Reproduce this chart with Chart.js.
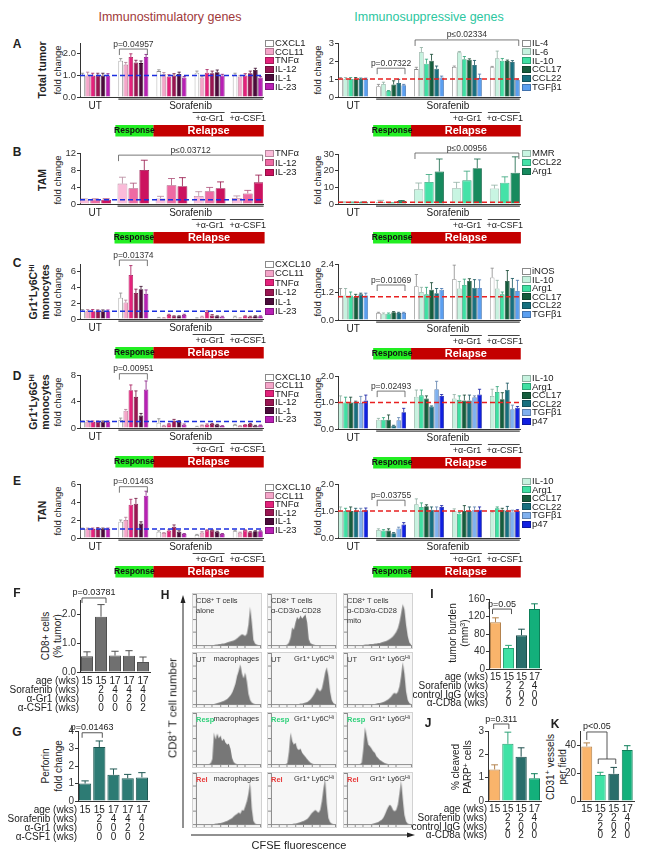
<!DOCTYPE html>
<html>
<head>
<meta charset="utf-8">
<script src="https://cdn.jsdelivr.net/npm/chart.js@4.4.1/dist/chart.umd.min.js"></script>
<style>
  html, body { margin: 0; padding: 0; background: #fff; }
  #page { position: relative; width: 648px; height: 861px; overflow: hidden;
          font-family: "Liberation Sans", Arial, sans-serif; color: #222; }
  #page canvas { position: absolute; }
  .t { position: absolute; white-space: nowrap; line-height: 1.15; text-align: center; }
  .sw { position: absolute; width: 9px; height: 7px; border: 1px solid #555; box-sizing: border-box; }
  .hp { background: #f6f6f6; border: 1px solid #d2d2d2; box-sizing: border-box; }
  sup { font-size: 70%; vertical-align: 0.45em; line-height: 0; }
</style>
</head>
<body>
<div id="page"></div>
<script>
// groups on the x axis of panels A-E
const groupNames = ['UT', 'Response', 'Sorafenib', 'Sorafenib + α-Gr1', 'Sorafenib + α-CSF1'];

// ---- A: total tumor
const aStimGenes = ['CXCL1', 'CCL11', 'TNFα', 'IL-12', 'IL-1', 'IL-23'];
const aStimMean = [
  [1.0, 1.68, 1.2, 1.12, 1.0],
  [1.0, 1.5, 1.05, 0.9, 0.95],
  [1.0, 1.85, 0.95, 1.12, 1.0],
  [1.0, 1.6, 1.0, 1.1, 1.1],
  [1.0, 1.57, 1.07, 1.15, 1.25],
  [1.0, 1.85, 0.9, 1.0, 0.9]
];
const aStimErr = [
  [0.1, 0.1, 0.06, 0.08, 0.1],
  [0.15, 0.1, 0.08, 0.05, 0.05],
  [0.1, 0.15, 0.08, 0.15, 0.08],
  [0.1, 0.1, 0.08, 0.1, 0.1],
  [0.1, 0.1, 0.08, 0.1, 0.08],
  [0.08, 0.12, 0.05, 0.05, 0.05]
];
const aSuppGenes = ['IL-4', 'IL-6', 'IL-10', 'CCL17', 'CCL22', 'TGFβ1'];
const aSuppMean = [
  [1.0, 0.6, 1.55, 1.67, 1.65],
  [1.0, 0.72, 2.5, 2.48, 2.15],
  [1.0, 0.33, 1.85, 2.1, 2.02],
  [1.0, 0.7, 2.02, 2.07, 2.0],
  [1.0, 0.78, 1.57, 1.78, 1.95],
  [1.0, 0.65, 1.08, 1.05, 0.95]
];
const aSuppErr = [
  [0.08, 0.1, 0.1, 0.05, 0.05],
  [0.08, 0.1, 0.25, 0.05, 0.4],
  [0.08, 0.03, 0.25, 0.15, 0.12],
  [0.08, 0.2, 0.35, 0.05, 0.05],
  [0.05, 0.2, 0.15, 0.25, 0.07],
  [0.05, 0.05, 0.08, 0.22, 0.05]
];

// ---- B: TAM
const bStimGenes = ['TNFα', 'IL-12', 'IL-23'];
const bStimMean = [
  [1.0, 4.8, 1.3, 1.9, 1.4],
  [1.0, 3.7, 4.4, 3.0, 2.5],
  [1.0, 8.0, 4.2, 3.7, 5.1]
];
const bStimErr = [
  [0.2, 1.5, 0.5, 1.0, 0.5],
  [0.2, 1.2, 1.6, 0.9, 0.7],
  [0.2, 2.3, 2.0, 1.5, 1.7]
];
const bSuppGenes = ['MMR', 'CCL22', 'Arg1'];
const bSuppMean = [
  [1.0, 1.2, 8.8, 9.5, 9.3],
  [1.0, 0.6, 13.2, 14.2, 12.8],
  [1.0, 1.8, 19.5, 21.5, 18.8]
];
const bSuppErr = [
  [0.3, 1.0, 3.8, 3.5, 2.0],
  [0.2, 0.2, 4.5, 5.5, 3.5],
  [0.2, 0.3, 7.5, 5.5, 9.5]
];

// ---- C: Gr1+Ly6C hi monocytes
const cStimGenes = ['CXCL10', 'CCL11', 'TNFα', 'IL-12', 'IL-1', 'IL-23'];
const cStimMean = [
  [1.0, 2.7, 0.15, 0.1, 0.3],
  [1.0, 2.1, 0.12, 0.3, 0.1],
  [1.0, 5.6, 0.5, 0.9, 0.35],
  [1.0, 3.3, 0.35, 0.45, 0.3],
  [1.0, 3.8, 0.35, 0.35, 0.35],
  [1.0, 3.2, 0.5, 0.3, 0.35]
];
const cStimErr = [
  [0.2, 0.6, 0.05, 0.05, 0.05],
  [0.2, 0.3, 0.05, 0.05, 0.05],
  [0.2, 1.2, 0.1, 0.15, 0.05],
  [0.15, 0.5, 0.05, 0.1, 0.05],
  [0.15, 0.35, 0.05, 0.05, 0.05],
  [0.15, 0.5, 0.1, 0.05, 0.05]
];
const cSuppGenes = ['iNOS', 'IL-10', 'Arg1', 'CCL17', 'CCL22', 'TGFβ1'];
const cSuppMean = [
  [1.05, 0.3, 1.45, 1.75, 1.82],
  [1.05, 0.27, 1.2, 1.35, 1.35],
  [1.05, 0.27, 1.1, 1.5, 1.1],
  [1.0, 0.33, 1.3, 1.67, 1.67],
  [1.1, 0.3, 1.15, 1.38, 1.38],
  [1.05, 0.3, 1.3, 1.37, 1.25]
];
const cSuppErr = [
  [0.3, 0.03, 0.5, 0.6, 0.4],
  [0.3, 0.03, 0.2, 0.3, 0.35],
  [0.15, 0.03, 0.3, 0.25, 0.1],
  [0.1, 0.03, 0.3, 0.1, 0.45],
  [0.05, 0.03, 0.2, 0.35, 0.4],
  [0.1, 0.03, 0.05, 0.35, 0.45]
];

// ---- D: Gr1+Ly6G hi monocytes
const dStimGenes = ['CXCL10', 'CCL11', 'TNFα', 'IL-12', 'IL-1', 'IL-23'];
const dStimMean = [
  [0.95, 1.2, 0.8, 0.2, 0.45],
  [0.95, 2.6, 0.3, 0.4, 0.3],
  [0.95, 5.7, 0.55, 0.5, 0.45],
  [0.95, 4.7, 1.1, 0.6, 0.6],
  [0.95, 1.9, 0.9, 0.5, 0.35],
  [0.95, 5.8, 0.5, 0.3, 0.4]
];
const dStimErr = [
  [0.1, 0.3, 0.6, 0.05, 0.1],
  [0.15, 0.2, 0.1, 0.05, 0.05],
  [0.1, 0.8, 0.1, 0.1, 0.05],
  [0.1, 0.9, 0.2, 0.1, 0.1],
  [0.1, 0.3, 0.2, 0.05, 0.05],
  [0.1, 1.3, 0.1, 0.05, 0.05]
];
const dSuppGenes = ['IL-10', 'Arg1', 'CCL17', 'CCL22', 'TGFβ1', 'p47'];
const dSuppMean = [
  [1.0, 0.35, 1.22, 1.15, 1.25],
  [1.0, 0.35, 1.27, 1.1, 1.4],
  [1.0, 0.35, 1.15, 1.08, 1.12],
  [1.02, 0.12, 0.85, 1.08, 1.48],
  [0.98, 0.33, 1.5, 1.2, 0.75],
  [1.08, 0.63, 1.25, 1.3, 0.8]
];
const dSuppErr = [
  [0.25, 0.05, 0.25, 0.15, 0.25],
  [0.2, 0.08, 0.2, 0.15, 0.2],
  [0.2, 0.18, 0.1, 0.2, 0.25],
  [0.03, 0.02, 0.02, 0.2, 0.25],
  [0.25, 0.1, 0.3, 0.05, 0.15],
  [0.2, 0.15, 0.05, 0.2, 0.05]
];

// ---- E: TAN
const eStimGenes = ['CXCL10', 'CCL11', 'TNFα', 'IL-12', 'IL-1', 'IL-23'];
const eStimMean = [
  [1.0, 1.8, 0.7, 0.35, 0.75],
  [1.0, 2.0, 0.55, 0.6, 0.6],
  [1.0, 3.7, 0.8, 0.85, 0.85],
  [1.0, 3.8, 1.25, 0.85, 0.65],
  [1.0, 1.6, 0.7, 0.7, 0.75],
  [1.0, 4.7, 0.45, 0.45, 0.75]
];
const eStimErr = [
  [0.1, 0.2, 0.1, 0.05, 0.1],
  [0.1, 0.3, 0.05, 0.1, 0.05],
  [0.1, 0.6, 0.1, 0.05, 0.05],
  [0.15, 0.6, 0.2, 0.05, 0.05],
  [0.1, 0.2, 0.1, 0.05, 0.05],
  [0.1, 0.5, 0.05, 0.05, 0.05]
];
const eSuppGenes = ['IL-10', 'Arg1', 'CCL17', 'CCL22', 'TGFβ1', 'p47'];
const eSuppMean = [
  [1.0, 0.3, 1.25, 1.0, 0.95],
  [1.0, 0.28, 1.15, 0.9, 1.1],
  [1.0, 0.28, 1.18, 1.0, 1.05],
  [1.0, 0.18, 1.05, 1.0, 1.02],
  [1.0, 0.35, 1.0, 1.05, 0.98],
  [1.03, 0.5, 1.15, 1.05, 1.0]
];
const eSuppErr = [
  [0.15, 0.04, 0.2, 0.08, 0.05],
  [0.1, 0.03, 0.15, 0.05, 0.05],
  [0.15, 0.06, 0.05, 0.2, 0.05],
  [0.1, 0.02, 0.1, 0.15, 0.15],
  [0.1, 0.05, 0.15, 0.1, 0.05],
  [0.08, 0.07, 0.05, 0.1, 0.05]
];

// ---- F, G
const treatGroups = ['15 wk', '15 wk Sor', '17 wk Sor', '17 wk Sor+Gr1', '17 wk Sor+CSF1'];
const cd8Mean = [0.55, 1.92, 0.57, 0.56, 0.35];
const cd8Err = [0.15, 0.42, 0.15, 0.18, 0.17];
const perforinMean = [1.0, 3.08, 1.5, 1.3, 1.35];
const perforinErr = [0.15, 0.35, 0.33, 0.22, 0.27];
const treatRowLabels = ['age (wks)', 'Sorafenib (wks)', 'α-Gr1 (wks)', 'α-CSF1 (wks)'];
const treatRows = [
  [15, 15, 17, 17, 17],
  ['', 2, 4, 4, 4],
  ['', 0, 0, 2, 0],
  ['', 0, 0, 0, 2]
];

// ---- I, J, K
const cd8aGroups = ['15 wk', '15 wk Sor+IgG', '15 wk Sor+CD8a', '17 wk Sor'];
const burdenMean = [107, 48, 77, 137];
const burdenErr = [10, 6, 14, 12];
const parpMean = [1.35, 2.45, 1.9, 0.97];
const parpErr = [0.2, 0.5, 0.38, 0.2];
const cd31Mean = [39, 18.5, 19.5, 36.5];
const cd31Err = [2.5, 2, 4.5, 3];
const cd8aRowLabels = ['age (wks)', 'Sorafenib (wks)', 'control IgG (wks)', 'α-CD8a (wks)'];
const cd8aRows = [
  [15, 15, 15, 17],
  ['', 2, 2, 4],
  ['', 2, 0, 0],
  ['', 0, 2, 0]
];

// ---- H: CFSE histograms (40 bins, % of panel height)
const hAlone   = [0,0,0,0,0,0,0,0,0,0,0,0,1,1,2,2,3,3,4,5,6,7,8,9,11,13,16,19,21,20,18,22,40,75,45,10,3,1,0,0];
const hCD3     = [0,0,0,0,0,0,0,0,0,0,1,5,15,35,30,45,55,50,58,52,56,60,45,12,4,2,1,0,0,0,0,0,0,0,0,0,0,0,0,0];
const hMito    = [0,0,0,0,0,0,0,0,0,0,0,1,1,1,2,2,2,3,3,4,4,5,6,7,8,10,12,14,17,21,26,33,45,62,80,70,40,18,5,1];
const hUtMac   = [0,0,0,0,0,0,0,0,0,0,0,0,1,2,3,4,5,6,8,10,13,17,22,30,40,55,65,78,60,50,62,45,20,8,3,1,0,0,0,0];
const hUtLy6C  = [0,0,0,0,0,0,0,0,0,0,0,0,0,0,0,0,0,0,1,1,2,3,4,6,9,13,18,24,32,28,25,30,45,62,72,55,25,8,2,0];
const hUtLy6G  = [0,0,0,0,0,0,0,0,0,0,0,0,0,0,0,0,0,0,1,2,2,3,4,5,7,9,12,15,20,22,20,24,35,55,82,60,25,8,2,0];
const hRespMac = [0,0,0,0,0,0,0,0,0,2,10,62,48,60,50,56,45,50,42,38,40,30,12,4,1,0,0,0,0,0,0,0,0,0,0,0,0,0,0,0];
const hRespLy6C= [0,0,0,0,0,0,0,0,0,0,2,25,62,45,38,42,30,28,30,22,18,14,10,6,3,1,0,0,0,0,0,0,0,0,0,0,0,0,0,0];
const hRespLy6G= [0,0,0,0,0,0,0,0,0,3,30,72,55,38,35,30,25,22,15,12,8,6,4,2,1,0,0,0,0,0,0,0,0,0,0,0,0,0,0,0];
const hRelMac  = [0,0,0,0,0,0,0,0,0,0,0,0,1,1,2,2,3,4,5,6,8,10,12,15,18,20,23,20,28,26,35,45,60,82,30,6,1,0,0,0];
const hRelLy6C = [0,0,0,0,0,0,0,0,0,0,0,0,0,0,1,1,2,3,4,5,6,8,10,13,18,22,25,28,25,22,28,45,70,88,40,12,4,1,0,0];
const hRelLy6G = [0,0,0,0,0,0,0,0,0,0,0,0,0,0,0,0,1,2,3,4,6,8,12,18,26,33,38,35,28,25,28,38,60,85,50,18,5,1,0,0];

// colours
const stimColors = ['#ffffff', '#f5a5c9', '#e4227b', '#9a1552', '#4b0b3b', '#b820b4'];
const tamStimColors = ['#fbbbd9', '#ee6aa3', '#cc125f'];
const suppColors = ['#ffffff', '#c6f2df', '#3fe0a3', '#155d3d', '#17707f', '#5b9ff0'];
const tamSuppColors = ['#c8f5e2', '#45e2a8', '#178a5e'];
const mdscSuppColors = ['#c6f2df', '#3fe0a3', '#155d3d', '#17707f', '#80b1ef', '#1020e0'];
const treatColors = ['#f9b46b', '#3fe2a5', '#2a6e6b', '#13b07b'];

const FONT = '"Liberation Sans", Arial, sans-serif';
Chart.defaults.font.family = FONT;
Chart.defaults.color = '#333';
const page = document.getElementById('page');

function edge(c) {
  if (c.toLowerCase() === '#ffffff') return '#8a8a8a';
  const n = parseInt(c.slice(1), 16);
  const f = 0.72;
  return `rgb(${Math.round((n >> 16 & 255) * f)},${Math.round((n >> 8 & 255) * f)},${Math.round((n & 255) * f)})`;
}

function put(html, x, y, style, anchor) {
  const d = document.createElement('div');
  d.className = 't';
  d.innerHTML = html;
  d.style.left = x + 'px';
  d.style.top = y + 'px';
  if (style) d.style.cssText += style;
  const a = anchor || 'c';
  let tr = 'translate(-50%,-50%)';
  if (a === 'l') tr = 'translate(0,-50%)';
  if (a === 'r') tr = 'translate(-100%,-50%)';
  if (a === 'tl') tr = 'none';
  if (a === 'tr') tr = 'translate(-100%,0)';
  if (a === 'rot') tr = 'translate(-50%,-50%) rotate(-90deg)';
  d.style.transform = tr;
  page.appendChild(d);
  return d;
}

function canvasAt(x, y, w, h, cls) {
  const c = document.createElement('canvas');
  c.width = w; c.height = h;
  c.style.left = x + 'px'; c.style.top = y + 'px';
  c.style.width = w + 'px'; c.style.height = h + 'px';
  if (cls) c.className = cls;
  page.appendChild(c);
  return c;
}

function legend(x, y0, dy, names, colors) {
  names.forEach((n, i) => {
    const y = y0 + i * dy;
    const s = document.createElement('div');
    s.className = 'sw';
    s.style.left = x + 'px';
    s.style.top = (y - 3.5) + 'px';
    s.style.background = colors[i];
    s.style.borderColor = edge(colors[i]);
    page.appendChild(s);
    put(n, x + 10, y, 'font-size:9.5px;', 'l');
  });
}

// error bars, brackets, reference line and treatment annotations of panels A-E
const geneDeco = {
  id: 'geneDeco',
  afterDatasetsDraw(chart, args, o) {
    const ctx = chart.ctx, a = chart.chartArea, ys = chart.scales.y;
    const sets = chart.data.datasets;
    ctx.save();
    sets.forEach((ds, i) => {
      chart.getDatasetMeta(i).data.forEach((b, j) => {
        const yt = ys.getPixelForValue(ds.data[j] + o.err[i][j]);
        const cw = Math.max(1.5, b.width * 0.35);
        ctx.strokeStyle = ds.borderColor;
        ctx.lineWidth = 0.8;
        ctx.beginPath();
        ctx.moveTo(b.x, b.y); ctx.lineTo(b.x, yt);
        ctx.moveTo(b.x - cw, yt); ctx.lineTo(b.x + cw, yt);
        ctx.stroke();
      });
    });
    const L = [], R = [];
    for (let j = 0; j < groupNames.length; j++) {
      const bars = sets.map((d, i) => chart.getDatasetMeta(i).data[j]);
      L[j] = Math.min(...bars.map(b => b.x - b.width / 2));
      R[j] = Math.max(...bars.map(b => b.x + b.width / 2));
    }
    // dashed line at fold change 1
    const y1 = ys.getPixelForValue(1);
    ctx.setLineDash([5, 3]);
    ctx.strokeStyle = o.ref;
    ctx.lineWidth = 1.5;
    ctx.beginPath(); ctx.moveTo(a.left, y1); ctx.lineTo(a.right, y1); ctx.stroke();
    ctx.setLineDash([]);
    // p value brackets
    ctx.textAlign = 'center';
    (o.brackets || []).forEach(br => {
      const yb = ys.getPixelForValue(br.v);
      const x0 = L[br.g0] + 1, x1 = R[br.g1] - 1;
      ctx.strokeStyle = '#555'; ctx.lineWidth = 0.8;
      ctx.beginPath();
      ctx.moveTo(x0, yb + 6); ctx.lineTo(x0, yb); ctx.lineTo(x1, yb); ctx.lineTo(x1, yb + 6);
      ctx.stroke();
      ctx.fillStyle = '#333';
      ctx.font = '8.5px ' + FONT;
      ctx.textBaseline = 'alphabetic';
      ctx.fillText(br.text, (x0 + x1) / 2, yb - 2.5);
    });
    // treatment annotations below the axis
    const yb = a.bottom;
    ctx.fillStyle = '#222';
    ctx.textBaseline = 'middle';
    ctx.font = '10px ' + FONT;
    ctx.fillText('UT', (L[0] + R[0]) / 2, yb + 9.5);
    ctx.fillText('Sorafenib', (L[1] + R[4]) / 2, yb + 9.5);
    ctx.strokeStyle = '#444'; ctx.lineWidth = 1.3;
    ctx.beginPath();
    ctx.moveTo(L[1], yb + 2.2); ctx.lineTo(R[4], yb + 2.2);
    ctx.stroke();
    ctx.lineWidth = 1;
    ctx.beginPath();
    ctx.moveTo(L[3] - 2, yb + 15.5); ctx.lineTo(R[3], yb + 15.5);
    ctx.moveTo(L[4] - 2, yb + 15.5); ctx.lineTo(R[4], yb + 15.5);
    ctx.stroke();
    ctx.font = '9px ' + FONT;
    ctx.fillText('+α-Gr1', (L[3] + R[3]) / 2, yb + 21.5);
    ctx.fillText('+α-CSF1', (L[4] + R[4]) / 2, yb + 21.5);
    const bx0 = L[1] - 3, bx1 = (R[1] + L[2]) / 2 + 1, bx2 = R[4] + 1;
    ctx.fillStyle = '#22ee22';
    ctx.fillRect(bx0, yb + 28, bx1 - bx0, 11.5);
    ctx.fillStyle = '#c40000';
    ctx.fillRect(bx1, yb + 28, bx2 - bx1, 11.5);
    ctx.fillStyle = '#111';
    ctx.font = 'bold 8.5px ' + FONT;
    ctx.fillText('Response', (bx0 + bx1) / 2, yb + 34);
    ctx.fillStyle = '#fff';
    ctx.font = 'bold 11px ' + FONT;
    ctx.fillText('Relapse', (bx1 + bx2) / 2, yb + 34);
    ctx.restore();
  }
};

function geneChart(o) {
  const padT = 24, padB = 42, lab = 32;
  const W = lab + o.w + 3, H = padT + (o.bottom - o.top) + padB;
  const c = canvasAt(o.x0 - lab, o.top - padT, W, H);
  new Chart(c, {
    type: 'bar',
    data: {
      labels: [1, 2, 3, 4, 5],
      datasets: o.genes.map((g, i) => ({
        label: g,
        data: o.mean[i],
        backgroundColor: o.colors[i],
        borderColor: edge(o.colors[i]),
        borderWidth: 0.8,
        categoryPercentage: o.cat,
        barPercentage: 0.9
      }))
    },
    options: {
      responsive: false, animation: false, devicePixelRatio: 1,
      layout: { padding: { top: padT, bottom: padB, left: 0, right: 3 } },
      plugins: {
        legend: { display: false }, tooltip: { enabled: false },
        geneDeco: { err: o.err, ref: o.ref, brackets: o.brackets }
      },
      scales: {
        x: {
          type: 'linear', min: 0.6, max: 5.4, offset: false,
          ticks: { display: false }, grid: { display: false },
          border: { color: '#333', width: 1 },
          afterFit: s => { s.height = 0; }
        },
        y: {
          min: 0, max: o.max,
          ticks: { stepSize: o.step, font: { size: 9.5 }, color: '#333', padding: 1,
                   callback: v => Number(v).toFixed(o.dec) },
          grid: { drawOnChartArea: false, tickLength: 3, color: '#333' },
          border: { color: '#333', width: 1 },
          afterFit: s => { s.width = lab; }
        }
      }
    },
    plugins: [geneDeco]
  });
  legend(o.lx, o.ly, o.ldy, o.genes, o.colors);
}

// error bars, treatment table and brackets of panels F, G, I, J, K
const simpleDeco = {
  id: 'simpleDeco',
  afterDatasetsDraw(chart, args, o) {
    const ctx = chart.ctx, a = chart.chartArea, ys = chart.scales.y;
    const ds = chart.data.datasets[0];
    const bars = chart.getDatasetMeta(0).data;
    ctx.save();
    ctx.lineWidth = 1;
    bars.forEach((b, j) => {
      const yt = ys.getPixelForValue(ds.data[j] + o.err[j]);
      ctx.strokeStyle = Array.isArray(ds.borderColor) ? ds.borderColor[j] : ds.borderColor;
      ctx.beginPath();
      ctx.moveTo(b.x, b.y); ctx.lineTo(b.x, yt);
      ctx.moveTo(b.x - b.width * 0.3, yt); ctx.lineTo(b.x + b.width * 0.3, yt);
      ctx.stroke();
    });
    ctx.fillStyle = '#222';
    ctx.textBaseline = 'middle';
    ctx.font = '10px ' + FONT;
    o.rows.forEach((row, k) => {
      const yy = a.bottom + o.row0 + k * o.rowDy;
      if (o.rowLabels) { ctx.textAlign = 'right'; ctx.fillText(o.rowLabels[k], a.left - 1, yy); }
      ctx.textAlign = 'center';
      row.forEach((v, j) => ctx.fillText(String(v), bars[j].x, yy));
    });
    const br = o.bracket;
    ctx.strokeStyle = '#444'; ctx.lineWidth = 0.9;
    ctx.font = '9px ' + FONT;
    ctx.textBaseline = 'alphabetic';
    ctx.textAlign = 'center';
    ctx.fillStyle = '#222';
    if (br.kind === 'step') {
      const y0 = ys.getPixelForValue(br.v), y2 = ys.getPixelForValue(br.v2);
      const b0 = bars[br.i0], b1 = bars[br.i1], b2 = bars[br.i2];
      const mid = (b1.x + b2.x) / 2;
      ctx.beginPath();
      ctx.moveTo(b0.x, y0 + 8); ctx.lineTo(b0.x, y0); ctx.lineTo(mid, y0); ctx.lineTo(mid, y2);
      ctx.moveTo(b1.x - 2, y2 + 5); ctx.lineTo(b1.x - 2, y2); ctx.lineTo(b2.x + 2, y2); ctx.lineTo(b2.x + 2, y2 + 5);
      ctx.stroke();
      ctx.fillText(br.text, (b0.x + mid) / 2, y0 - 3);
    } else {
      const yb = ys.getPixelForValue(br.v);
      const x0 = bars[br.i0].x - br.pad, x1 = bars[br.i1].x + br.pad;
      ctx.beginPath();
      ctx.moveTo(x0, yb + 5); ctx.lineTo(x0, yb); ctx.lineTo(x1, yb); ctx.lineTo(x1, yb + 5);
      ctx.stroke();
      ctx.textAlign = br.align || 'center';
      ctx.fillText(br.text, br.align === 'left' ? x0 - 2 : (x0 + x1) / 2, yb - 2.5);
    }
    ctx.restore();
  }
};

function simpleChart(o) {
  const padT = 22, padB = 44;
  const W = o.lab + o.w + 3, H = padT + (o.bottom - o.top) + padB;
  const c = canvasAt(o.x0 - o.lab, o.top - padT, W, H);
  new Chart(c, {
    type: 'bar',
    data: {
      labels: o.labels,
      datasets: [{
        data: o.mean,
        backgroundColor: o.colors,
        borderColor: o.colors.map(edge),
        borderWidth: 1,
        categoryPercentage: 1,
        barPercentage: o.bp
      }]
    },
    options: {
      responsive: false, animation: false, devicePixelRatio: 1,
      layout: { padding: { top: padT, bottom: padB, left: 0, right: 3 } },
      plugins: {
        legend: { display: false }, tooltip: { enabled: false },
        simpleDeco: { err: o.err, rows: o.rows, rowLabels: o.rowLabels, row0: o.row0, rowDy: o.rowDy, bracket: o.bracket }
      },
      scales: {
        x: {
          ticks: { display: false }, grid: { display: false },
          border: { color: '#333', width: 1 },
          afterFit: s => { s.height = 0; }
        },
        y: {
          min: 0, max: o.max,
          ticks: { stepSize: o.step, font: { size: 10 }, color: '#333', padding: 1,
                   callback: v => Number(v).toFixed(o.dec) },
          grid: { drawOnChartArea: false, tickLength: 3, color: '#333' },
          border: { color: '#333', width: 1 },
          afterFit: s => { s.width = o.lab; }
        }
      }
    },
    plugins: [simpleDeco]
  });
}

function histo(x, y, data, tl, tr, tlColor) {
  const w = 70, h = 56;
  const c = canvasAt(x, y, w, h, 'hp');
  new Chart(c, {
    type: 'line',
    data: { datasets: [{ data: data.map((v, i) => ({ x: i, y: v })), fill: 'origin',
            backgroundColor: '#777', borderWidth: 0, pointRadius: 0, tension: 0 }] },
    options: {
      responsive: false, animation: false, devicePixelRatio: 1,
      layout: { padding: { top: 0, right: 1, left: 0, bottom: 0 } },
      plugins: { legend: { display: false }, tooltip: { enabled: false } },
      scales: {
        x: { type: 'linear', min: 0, max: 39, ticks: { display: false, stepSize: 5 },
             grid: { drawOnChartArea: false, tickLength: 3, color: '#888' }, border: { color: '#888' },
             afterFit: s => { s.height = 3; } },
        y: { min: 0, max: 100, ticks: { display: false, stepSize: 25 },
             grid: { drawOnChartArea: false, tickLength: 3, color: '#888' }, border: { color: '#888' },
             afterFit: s => { s.width = 3; } }
      }
    }
  });
  put(tl, x + 4, y + 3, 'font-size:7.5px;text-align:left;line-height:1.3;color:' + (tlColor || '#333') + ';' + (tlColor ? 'font-weight:bold;' : ''), 'tl');
  if (tr) put(tr, x + w - 3, y + 3, 'font-size:7.5px;color:#333;', 'tr');
}

// ---------- titles and row labels ----------
put('Immunostimulatory genes', 170, 17, 'font-size:12.5px;color:#a0393a;');
put('Immunosuppressive genes', 429, 17, 'font-size:12.5px;color:#2cc6a0;');
const LET = 'font-size:12px;font-weight:bold;';
put('A', 17, 45, LET); put('B', 17, 153, LET); put('C', 17, 264, LET);
put('D', 17, 377, LET); put('E', 17, 482, LET);
const ROW = 'font-size:10.5px;font-weight:bold;';
const FC = 'font-size:9.5px;';
put('Total tumor', 42, 70, ROW, 'rot');
put('TAM', 42, 180, ROW, 'rot');
put('Gr1<sup>+</sup>Ly6C<sup>Hi</sup><br>monocytes', 40, 292, ROW + 'line-height:1.1;', 'rot');
put('Gr1<sup>+</sup>Ly6G<sup>Hi</sup><br>monocytes', 40, 402, ROW + 'line-height:1.1;', 'rot');
put('TAN', 42, 511, ROW, 'rot');
[70, 180, 292, 402, 511].forEach(y => { put('fold change', 58, y, FC, 'rot'); put('fold change', 318, y, FC, 'rot'); });

// ---------- panels A-E ----------
const BLUE = '#1b2fe0', RED = '#e82020';
geneChart({ x0: 80, top: 43, bottom: 97, w: 183, genes: aStimGenes, mean: aStimMean, err: aStimErr,
  colors: stimColors, max: 2.5, step: 0.5, dec: 1, ref: BLUE, cat: 0.8, lx: 265, ly: 43, ldy: 8.7,
  brackets: [{ g0: 1, g1: 1, v: 2.22, text: 'p=0.04957' }] });
geneChart({ x0: 338, top: 43, bottom: 97, w: 182, genes: aSuppGenes, mean: aSuppMean, err: aSuppErr,
  colors: suppColors, max: 3, step: 1, dec: 0, ref: RED, cat: 0.8, lx: 522, ly: 43, ldy: 8.8,
  brackets: [{ g0: 1, g1: 1, v: 1.6, text: 'p=0.07322' }, { g0: 2, g1: 4, v: 3.17, text: 'p≤0.02334' }] });

geneChart({ x0: 80, top: 153, bottom: 204, w: 183, genes: bStimGenes, mean: bStimMean, err: bStimErr,
  colors: tamStimColors, max: 12, step: 4, dec: 0, ref: BLUE, cat: 0.86, lx: 265, ly: 153, ldy: 9.5,
  brackets: [{ g0: 1, g1: 4, v: 11.5, text: 'p≤0.03712' }] });
geneChart({ x0: 338, top: 154, bottom: 204, w: 182, genes: bSuppGenes, mean: bSuppMean, err: bSuppErr,
  colors: tamSuppColors, max: 30, step: 10, dec: 0, ref: RED, cat: 0.82, lx: 522, ly: 153, ldy: 9,
  brackets: [{ g0: 2, g1: 4, v: 30.6, text: 'p≤0.00956' }] });

geneChart({ x0: 80, top: 264, bottom: 319, w: 183, genes: cStimGenes, mean: cStimMean, err: cStimErr,
  colors: stimColors, max: 7, step: 1, dec: 0, ref: BLUE, cat: 0.8, lx: 265, ly: 264, ldy: 9.4,
  brackets: [{ g0: 1, g1: 1, v: 7.5, text: 'p=0.01374' }] });
geneChart({ x0: 338, top: 264, bottom: 320, w: 182, genes: cSuppGenes, mean: cSuppMean, err: cSuppErr,
  colors: suppColors, max: 2.4, step: 0.6, dec: 1, ref: RED, cat: 0.8, lx: 522, ly: 271, ldy: 8.6,
  brackets: [{ g0: 1, g1: 1, v: 1.5, text: 'p=0.01069' }] });

geneChart({ x0: 80, top: 375, bottom: 428, w: 183, genes: dStimGenes, mean: dStimMean, err: dStimErr,
  colors: stimColors, max: 8, step: 2, dec: 0, ref: BLUE, cat: 0.8, lx: 265, ly: 377, ldy: 8.4,
  brackets: [{ g0: 1, g1: 1, v: 8.2, text: 'p=0.00951' }] });
geneChart({ x0: 338, top: 376, bottom: 429, w: 182, genes: dSuppGenes, mean: dSuppMean, err: dSuppErr,
  colors: mdscSuppColors, max: 2, step: 0.5, dec: 1, ref: RED, cat: 0.8, lx: 522, ly: 378, ldy: 8.6,
  brackets: [{ g0: 1, g1: 1, v: 1.43, text: 'p=0.02493' }] });

geneChart({ x0: 80, top: 484, bottom: 538, w: 183, genes: eStimGenes, mean: eStimMean, err: eStimErr,
  colors: stimColors, max: 6, step: 2, dec: 0, ref: BLUE, cat: 0.8, lx: 265, ly: 487, ldy: 8.6,
  brackets: [{ g0: 1, g1: 1, v: 5.7, text: 'p=0.01463' }] });
geneChart({ x0: 338, top: 484, bottom: 538, w: 182, genes: eSuppGenes, mean: eSuppMean, err: eSuppErr,
  colors: mdscSuppColors, max: 2, step: 0.5, dec: 1, ref: RED, cat: 0.8, lx: 522, ly: 481, ldy: 8.6,
  brackets: [{ g0: 1, g1: 1, v: 1.4, text: 'p=0.03755' }] });

// ---------- F, G ----------
put('F', 17, 594, LET); put('G', 17, 733, LET);
put('CD8+ cells<br>(% tumor)', 51, 636, 'font-size:10px;line-height:1.15;', 'rot');
put('Perforin<br>fold change', 52, 766, 'font-size:10px;line-height:1.25;', 'rot');
simpleChart({ x0: 80, lab: 80, top: 600, bottom: 672, w: 70, labels: treatGroups, mean: cd8Mean, err: cd8Err,
  colors: treatGroups.map(() => '#707070'), bp: 0.86, max: 2.5, step: 0.5, dec: 1,
  rows: treatRows, rowLabels: treatRowLabels, row0: 9, rowDy: 9,
  bracket: { i0: 0, i1: 1, v: 2.57, pad: 5, text: 'p=0.03781' } });
simpleChart({ x0: 78, lab: 78, top: 731, bottom: 801, w: 71, labels: treatGroups, mean: perforinMean, err: perforinErr,
  colors: treatGroups.map(() => '#2d7b74'), bp: 0.86, max: 4, step: 1, dec: 0,
  rows: treatRows, rowLabels: treatRowLabels, row0: 9, rowDy: 9,
  bracket: { i0: 0, i1: 1, v: 3.9, pad: 3, text: 'p=0.01463' } });

// ---------- H ----------
put('H', 165, 596, LET);
const hx = [192, 267, 343], hy = [593, 652, 712, 772];
histo(hx[0], hy[0], hAlone, 'CD8<sup>+</sup> T cells<br>alone');
histo(hx[1], hy[0], hCD3, 'CD8<sup>+</sup> T cells<br>α-CD3/α-CD28');
histo(hx[2], hy[0], hMito, 'CD8<sup>+</sup> T cells<br>α-CD3/α-CD28<br>mito');
histo(hx[0], hy[1], hUtMac, 'UT', 'macrophages');
histo(hx[1], hy[1], hUtLy6C, 'UT', 'Gr1<sup>+</sup> Ly6C<sup>Hi</sup>');
histo(hx[2], hy[1], hUtLy6G, 'UT', 'Gr1<sup>+</sup> Ly6G<sup>Hi</sup>');
histo(hx[0], hy[2], hRespMac, 'Resp', 'macrophages', '#2fd07a');
histo(hx[1], hy[2], hRespLy6C, 'Resp', 'Gr1<sup>+</sup> Ly6C<sup>Hi</sup>', '#2fd07a');
histo(hx[2], hy[2], hRespLy6G, 'Resp', 'Gr1<sup>+</sup> Ly6G<sup>Hi</sup>', '#2fd07a');
histo(hx[0], hy[3], hRelMac, 'Rel', 'macrophages', '#e83a3a');
histo(hx[1], hy[3], hRelLy6C, 'Rel', 'Gr1<sup>+</sup> Ly6C<sup>Hi</sup>', '#e83a3a');
histo(hx[2], hy[3], hRelLy6G, 'Rel', 'Gr1<sup>+</sup> Ly6G<sup>Hi</sup>', '#e83a3a');
// axis arrows
const arr = canvasAt(176, 570, 245, 272);
{
  const g = arr.getContext('2d');
  g.strokeStyle = '#222'; g.fillStyle = '#222'; g.lineWidth = 1;
  g.beginPath(); g.moveTo(7, 258); g.lineTo(7, 32); g.stroke();
  g.beginPath(); g.moveTo(7, 25); g.lineTo(4.5, 33); g.lineTo(9.5, 33); g.closePath(); g.fill();
  g.beginPath(); g.moveTo(15, 265); g.lineTo(232, 265); g.stroke();
  g.beginPath(); g.moveTo(239, 265); g.lineTo(231, 262.5); g.lineTo(231, 267.5); g.closePath(); g.fill();
}
put('CD8<sup>+</sup> T cell number', 173, 708, 'font-size:11.5px;', 'rot');
put('CFSE fluorescence', 299, 845, 'font-size:11px;');

// ---------- I, J, K ----------
put('I', 432, 595, LET); put('J', 428, 724, LET); put('K', 555, 725, LET);
put('tumor burden<br>(mm<sup>3</sup>)', 459, 633, 'font-size:10px;line-height:1.2;', 'rot');
put('% cleaved<br>PARP<sup>+</sup> cells', 462, 767, 'font-size:10px;line-height:1.2;', 'rot');
put('CD31<sup>+</sup> vessels<br>per field', 556, 767, 'font-size:10px;line-height:1.15;', 'rot');
simpleChart({ x0: 489, lab: 79, top: 599, bottom: 669, w: 52, labels: cd8aGroups, mean: burdenMean, err: burdenErr,
  colors: treatColors, bp: 0.85, max: 160, step: 40, dec: 0,
  rows: cd8aRows, rowLabels: cd8aRowLabels, row0: 8.5, rowDy: 8.7,
  bracket: { i0: 0, i1: 1, v: 137, pad: 3, text: 'p=0.05' } });
simpleChart({ x0: 488, lab: 78, top: 731, bottom: 801, w: 53, labels: cd8aGroups, mean: parpMean, err: parpErr,
  colors: treatColors, bp: 0.85, max: 3, step: 1, dec: 0,
  rows: cd8aRows, rowLabels: cd8aRowLabels, row0: 8.5, rowDy: 8.7,
  bracket: { i0: 0, i1: 1, v: 3.3, pad: 1, text: 'p=0.311' } });
simpleChart({ x0: 580, lab: 20, top: 731, bottom: 801, w: 54, labels: cd8aGroups, mean: cd31Mean, err: cd31Err,
  colors: treatColors, bp: 0.81, max: 50, step: 10, dec: 0,
  rows: cd8aRows, rowLabels: null, row0: 8.5, rowDy: 8.7,
  bracket: { kind: 'step', i0: 0, i1: 1, i2: 2, v: 49.3, v2: 30, text: 'p<0.05' } });
</script>
</body>
</html>
